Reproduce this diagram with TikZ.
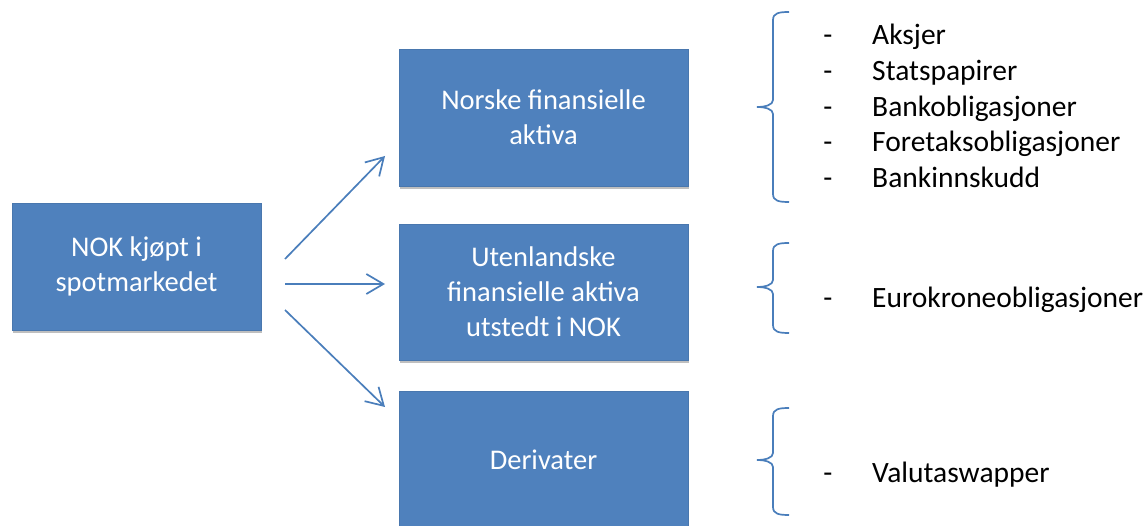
\documentclass[tikz,border=0pt]{standalone}
\usepackage{fontspec}
\setmainfont{Carlito}
\usetikzlibrary{arrows.meta,shadows}
\definecolor{boxblue}{HTML}{4F81BD}
\definecolor{lineblue}{HTML}{4A7EBB}
\newcommand\drawbrace[3]{%
  \draw[bracestyle] (789,#1) .. controls (779,#1) and (773,#1+1) .. (773,#1+8)
    -- (773,#2-7) .. controls (773,#2-2) and (765,#2) .. (757,#2)
    .. controls (765,#2) and (773,#2+2) .. (773,#2+7)
    -- (773,#3-8) .. controls (773,#3-1) and (779,#3) .. (789,#3);}
\begin{document}
\begin{tikzpicture}[x=1pt,y=-1pt,
  bluebox/.style={rectangle, fill=boxblue, draw=boxblue!92!black, line width=0.5pt,
    text=white, align=center, inner sep=0pt,
    font=\fontsize{28.5}{35}\selectfont,
    drop shadow={shadow xshift=1pt, shadow yshift=-3pt, opacity=0.25, fill=black}},
  conn/.style={draw=lineblue, line width=1.7pt, -{Straight Barb[length=17pt,width=20pt]}},
  bracestyle/.style={draw=lineblue, line width=1.7pt},
  listitem/.style={anchor=base west, inner sep=0pt, font=\fontsize{29.5}{35}\selectfont},
  listdash/.style={anchor=base, inner sep=0pt, font=\fontsize{29.5}{35}\selectfont}]
\useasboundingbox (0,0) rectangle (1146,526);

% boxes
\node[bluebox, minimum width=249pt, minimum height=127pt] (spot) at (136.5,266.5) {NOK kjøpt i\\spotmarkedet};
\node[bluebox, minimum width=289pt, minimum height=137pt] (norske) at (543.5,117.5) {Norske finansielle\\aktiva};
\node[bluebox, minimum width=289pt, minimum height=136pt] (utl) at (543.5,292) {Utenlandske\\finansielle aktiva\\utstedt i NOK};
\node[bluebox, minimum width=289pt, minimum height=138pt] (deriv) at (543.5,460) {Derivater};

% arrows
\coordinate (a1s) at (285,259); \coordinate (a1e) at (385,156);
\coordinate (a2s) at (285,284); \coordinate (a2e) at (385,284);
\coordinate (a3s) at (285,310); \coordinate (a3e) at (385,407);
\draw[conn] (a1s) -- (a1e);
\draw[conn] (a2s) -- (a2e);
\draw[conn] (a3s) -- (a3e);

% braces
\drawbrace{12}{107}{202}
\drawbrace{243}{287}{333}
\drawbrace{408}{460}{515}

% list items
\node[listdash] (d1) at (828,45) {-};  \node[listitem] (t1) at (872,45) {Aksjer};
\node[listdash] (d2) at (828,81) {-};  \node[listitem] (t2) at (872,81) {Statspapirer};
\node[listdash] (d3) at (828,117) {-}; \node[listitem] (t3) at (872,117) {Bankobligasjoner};
\node[listdash] (d4) at (828,152) {-}; \node[listitem] (t4) at (872,152) {Foretaksobligasjoner};
\node[listdash] (d5) at (828,188) {-}; \node[listitem] (t5) at (872,188) {Bankinnskudd};
\node[listdash] (d6) at (828,308) {-}; \node[listitem] (t6) at (872,308) {Eurokroneobligasjoner};
\node[listdash] (d7) at (828,482) {-}; \node[listitem] (t7) at (872,482) {Valutaswapper};
\end{tikzpicture}
\end{document}
